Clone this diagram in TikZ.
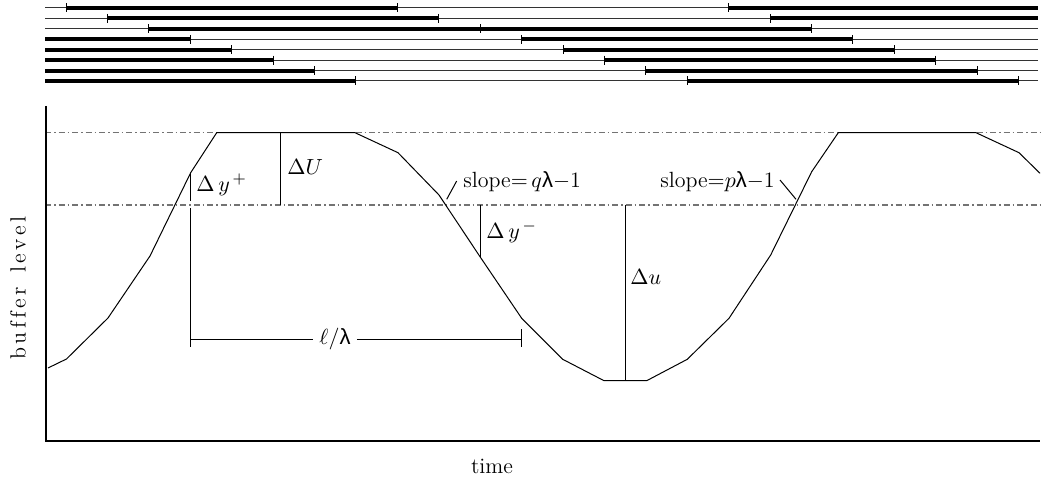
\documentclass[tikz,border=0pt]{standalone}
\usepackage{fontspec}
\newfontfamily\grk{Liberation Sans}
\begin{document}
\begin{tikzpicture}[x=0.5pt,y=-0.5pt,
  thinbar/.style={line width=0.5pt, black!80},
  thickbar/.style={line width=2pt},
  tickmark/.style={line width=0.5pt},
  curveline/.style={line width=0.5pt, line join=round},
  guide/.style={line width=0.65pt, black!55, dash pattern=on 3pt off 1.5pt on 0.75pt off 1.5pt},
  meas/.style={line width=0.5pt},
  axisline/.style={line width=1pt},
  lbl/.style={inner sep=1pt, font=\fontsize{11}{13}\selectfont},
  slbl/.style={inner sep=1pt, font=\fontsize{11}{13}\selectfont}
]
\useasboundingbox (0,0) rectangle (1044,485);
\def\tk#1#2{\draw[tickmark] ({66+41.42*#1},#2-4.5) -- ({66+41.42*#1},#2+4.5);}
\def\ls{\kern1.8pt}
% ---------- bars ----------
\foreach \y in {8,18.4,28.9,39.3,49.7,60.2,70.6,81}{
  \draw[thinbar] (45,\y) -- (1038,\y);
}
% row 1
\draw[thickbar] ({66+41.42*0},8) -- ({66+41.42*8},8);
\draw[thickbar] ({66+41.42*16},8) -- (1038,8);
\tk{0}{8}\tk{8}{8}\tk{16}{8}
% row 2
\draw[thickbar] ({66+41.42*1},18.4) -- ({66+41.42*9},18.4);
\draw[thickbar] ({66+41.42*17},18.4) -- (1038,18.4);
\tk{1}{18.4}\tk{9}{18.4}\tk{17}{18.4}
% row 3
\draw[thickbar] ({66+41.42*2},28.9) -- ({66+41.42*18},28.9);
\tk{2}{28.9}\tk{10}{28.9}\tk{18}{28.9}
% row 4
\draw[thickbar] (45,39.3) -- ({66+41.42*3},39.3);
\draw[thickbar] ({66+41.42*11},39.3) -- ({66+41.42*19},39.3);
\tk{3}{39.3}\tk{11}{39.3}\tk{19}{39.3}
% row 5
\draw[thickbar] (45,49.7) -- ({66+41.42*4},49.7);
\draw[thickbar] ({66+41.42*12},49.7) -- ({66+41.42*20},49.7);
\tk{4}{49.7}\tk{12}{49.7}\tk{20}{49.7}
% row 6
\draw[thickbar] (45,60.2) -- ({66+41.42*5},60.2);
\draw[thickbar] ({66+41.42*13},60.2) -- ({66+41.42*21},60.2);
\tk{5}{60.2}\tk{13}{60.2}\tk{21}{60.2}
% row 7
\draw[thickbar] (45,70.6) -- ({66+41.42*6},70.6);
\draw[thickbar] ({66+41.42*14},70.6) -- ({66+41.42*22},70.6);
\tk{6}{70.6}\tk{14}{70.6}\tk{22}{70.6}
% row 8
\draw[thickbar] (45,81) -- ({66+41.42*7},81);
\draw[thickbar] ({66+41.42*15},81) -- ({66+41.42*23},81);
\tk{7}{81}\tk{15}{81}\tk{23}{81}
% ---------- guide lines ----------
\draw[guide] (45,132.7) -- (1040,132.7);
\draw[guide] (45,205) -- (1040,205);
% ---------- axes ----------
\draw[axisline] (45.5,106) -- (45.5,441) -- (1040,441);
% ---------- curve ----------
\draw[curveline] (48,368) -- (66.5,359) -- (108,318) -- (150,256) -- (190.7,172.7)
  -- (216.7,132.7) -- (355,132.7) -- (398,152.7) -- (439,195) -- (480,256.7)
  -- (521.7,318.3) -- (562.7,359.3) -- (604,380.7) -- (646.7,380.7) -- (687.3,359.3)
  -- (729,318.3) -- (770.7,255) -- (811.7,171.7) -- (838.3,132.7) -- (976,132.7)
  -- (1019,152.7) -- (1040,173.3);
% ---------- measurements ----------
\coordinate (yp1) at (190.7,172.7);
\coordinate (yp2) at (190.7,201.5);
\coordinate (yp3) at (190.7,208.5);
\coordinate (yp4) at (190.7,346.7);
\draw[meas] (yp1) -- (yp2);
\draw[meas] (yp3) -- (yp4);
\coordinate (U1) at (280,132.7);
\coordinate (U2) at (280,205);
\draw[meas] (U1) -- (U2);
\coordinate (ym1) at (480,205);
\coordinate (ym2) at (480,256.7);
\draw[meas] (ym1) -- (ym2);
\coordinate (u1) at (625,205);
\coordinate (u2) at (625,380.7);
\draw[meas] (u1) -- (u2);
\coordinate (L1) at (190.7,339.3);
\coordinate (L2) at (521.7,339.3);
\coordinate (Lt1) at (521.7,329.5);
\coordinate (Lt2) at (521.7,347.5);
\node[lbl, fill=white, inner sep=3pt] (ell) at (335,339.3) {$\ell/${\grk λ}};
\draw[meas] (L1) -- (ell.west);
\draw[meas] (ell.east) -- (L2);
\draw[meas] (Lt1) -- (Lt2);
% ---------- labels ----------
\node[lbl, anchor=west] (dU) at (285,167) {$\Delta U$};
\node[lbl, anchor=west] (dyp) at (194,185) {$\Delta\, y^{\,+}$};
\node[lbl, anchor=west] (dym) at (484,232) {$\Delta\, y^{\,-}$};
\node[lbl, anchor=west] (du) at (628,277) {$\Delta u$};
\node[slbl, anchor=west] (sq) at (461,182) {slope$=$\,$q${\grk λ}$-$1};
\node[slbl, anchor=east] (sp) at (777,182) {slope$=$$p${\grk λ}$-$1};
\coordinate (sq1) at (456.7,181);
\coordinate (sq2) at (446.7,199.3);
\draw[meas] (sq1) -- (sq2);
\coordinate (sp1) at (780,180);
\coordinate (sp2) at (796,199.3);
\draw[meas] (sp1) -- (sp2);
\node[lbl, rotate=90] (yl) at (18,288) {b\ls u\ls f\ls f\ls e\ls r\hspace{7pt}l\ls e\ls v\ls e\ls l};
\node[lbl] (xl) at (492,466) {time};
\end{tikzpicture}
\end{document}
